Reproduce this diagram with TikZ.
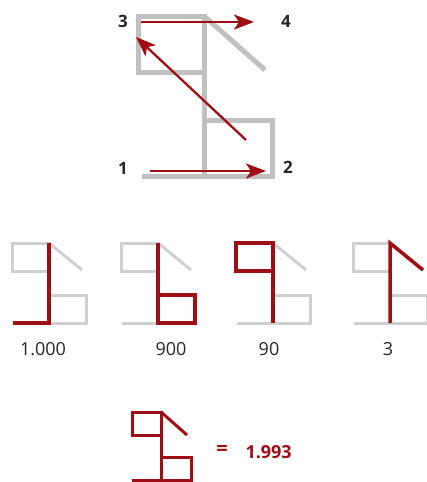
\documentclass[tikz,border=0pt]{standalone}
\usepackage{fontspec}
\setmainfont{Open Sans}
\usetikzlibrary{arrows.meta}
\definecolor{dred}{RGB}{158,14,20}
\definecolor{lgray}{RGB}{192,192,192}
\definecolor{sgray}{RGB}{208,208,208}
\tikzset{
  bigshape/.style={draw=lgray,line width=5pt,line cap=butt,line join=miter},
  redarrow/.style={draw=dred,line width=2.3pt,-{Stealth[length=20pt,width=15pt,inset=5pt]}},
  grayshape/.style={draw=sgray,line width=3pt,line join=miter},
  redshape/.style={draw=dred,line width=3.5pt,line join=miter},
  numlabel/.style={font=\fontsize{17}{17}\selectfont\bfseries,text=black!85},
  valuelabel/.style={font=\fontsize{18}{18}\selectfont,text=black!85},
  pics/glyph/.style={code={
    \draw[grayshape] (-37,0) rectangle (0,28);
    \draw[grayshape] (0,0) -- (33,27);
    \draw[grayshape] (0,0) -- (0,80);
    \draw[grayshape] (0,52) rectangle (37,80);
    \draw[grayshape] (-36,80) -- (0,80);
  }}
}
\begin{document}
\begin{tikzpicture}[x=1pt,y=-1pt]
\useasboundingbox (0,0) rectangle (426,482);
% top figure
\draw[bigshape] (138,16) rectangle (204,72);
\draw[bigshape] (204,16) -- (265,70);
\draw[bigshape] (204,16) -- (204,176);
\draw[bigshape] (204,120) rectangle (272,176);
\draw[bigshape] (142,176) -- (204,176);
\node[numlabel] (n1) at (123,168) {1};
\node[numlabel] (n2) at (288,167) {2};
\node[numlabel] (n3) at (123,21) {3};
\node[numlabel] (n4) at (286,21) {4};
\coordinate (a1) at (150,171);
\coordinate (a2e) at (266,171);
\coordinate (a2) at (246,140);
\coordinate (a3e) at (136,37);
\coordinate (a3) at (141,22);
\coordinate (a4e) at (254,22);
\draw[redarrow] (a1) -- (a2e);
\draw[redarrow] (a2) -- (a3e);
\draw[redarrow] (a3) -- (a4e);
% small figures
\pic at (49,243) {glyph};
\draw[redshape] (49,243) -- (49,323) -- (13,323);
\node[valuelabel] (v1) at (43,349) {1.000};
\pic at (158,243) {glyph};
\draw[redshape] (158,243) -- (158,323) -- (195,323) -- (195,295) -- (158,295);
\node[valuelabel] (v2) at (171,349) {900};
\pic at (273,243) {glyph};
\draw[redshape] (273,323) -- (273,243) -- (236,243) -- (236,271) -- (273,271);
\node[valuelabel] (v3) at (269,349) {90};
\pic at (390,243) {glyph};
\draw[redshape] (390,323) -- (390,243) -- (423,270);
\node[valuelabel] (v4) at (388,349) {3};
% bottom figure
\draw[redshape,line width=3pt] (132,412) rectangle (161,435);
\draw[redshape,line width=3pt] (161,412) -- (187,435);
\draw[redshape,line width=3pt] (161,412) -- (161,480);
\draw[redshape,line width=3pt] (161,457) rectangle (191,480);
\draw[redshape,line width=3pt] (132,480) -- (161,480);
\node[font=\fontsize{20}{20}\selectfont\bfseries,text=dred] (eq) at (222,450) {=};
\node[font=\fontsize{18}{18}\selectfont\bfseries,text=dred,anchor=west] (res) at (242,452) {1.993};
\end{tikzpicture}
\end{document}
